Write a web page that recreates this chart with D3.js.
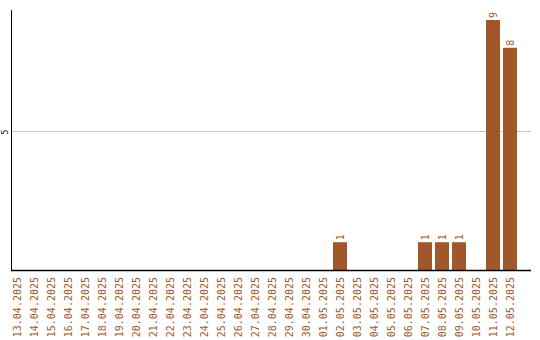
<!DOCTYPE html>
<html>
<head>
<meta charset="utf-8">
<script src="https://cdn.jsdelivr.net/npm/d3@7"></script>
<style>
  html, body { margin: 0; padding: 0; background: #fff; }
  svg { display: block; }
</style>
</head>
<body>
<svg id="chart" width="540" height="340"></svg>
<script>
// Daily counts, 13.04.2025 – 12.05.2025
const dates = [
  "13.04.2025", "14.04.2025", "15.04.2025", "16.04.2025", "17.04.2025",
  "18.04.2025", "19.04.2025", "20.04.2025", "21.04.2025", "22.04.2025",
  "23.04.2025", "24.04.2025", "25.04.2025", "26.04.2025", "27.04.2025",
  "28.04.2025", "29.04.2025", "30.04.2025", "01.05.2025", "02.05.2025",
  "03.05.2025", "04.05.2025", "05.05.2025", "06.05.2025", "07.05.2025",
  "08.05.2025", "09.05.2025", "10.05.2025", "11.05.2025", "12.05.2025"
];
const counts = [
  0, 0, 0, 0, 0, 0, 0, 0, 0, 0,
  0, 0, 0, 0, 0, 0, 0, 0, 0, 1,
  0, 0, 0, 0, 1, 1, 1, 0, 9, 8
];
const yTicks = [5];
const yMax = 9.36;

const barColor = "#a0572a";
const svg = d3.select("#chart");

const x = d3.scaleBand()
  .domain(dates)
  .range([10, 517])
  .paddingInner(3 / 17)
  .paddingOuter(0);

const y = d3.scaleLinear()
  .domain([0, yMax])
  .range([270, 10]);

// horizontal grid line(s)
svg.append("g")
  .selectAll("line")
  .data(yTicks)
  .join("line")
  .attr("x1", 11)
  .attr("x2", 531)
  .attr("y1", d => Math.round(y(d)) + 0.5)
  .attr("y2", d => Math.round(y(d)) + 0.5)
  .attr("stroke", "#c8c8c8")
  .attr("stroke-width", 1);

// y tick labels, rotated
svg.append("g")
  .selectAll("text")
  .data(yTicks)
  .join("text")
  .attr("transform", d => `translate(8, ${Math.round(y(d)) + 1}) rotate(-90)`)
  .attr("text-anchor", "middle")
  .attr("font-family", "DejaVu Sans Mono, monospace")
  .attr("font-size", 8)
  .attr("fill", "#000")
  .text(d => d);

// bars
svg.append("g")
  .selectAll("rect")
  .data(dates.map((d, i) => ({ date: d, value: counts[i] })).filter(d => d.value > 0))
  .join("rect")
  .attr("x", d => x(d.date))
  .attr("y", d => y(d.value))
  .attr("width", x.bandwidth())
  .attr("height", d => y(0) - y(d.value))
  .attr("fill", barColor);

// value labels above bars
svg.append("g")
  .selectAll("text")
  .data(dates.map((d, i) => ({ date: d, value: counts[i] })).filter(d => d.value > 0))
  .join("text")
  .attr("transform", d => `translate(${x(d.date) + x.bandwidth() / 2 + 3.5}, ${y(d.value) - 2}) rotate(-90)`)
  .attr("text-anchor", "start")
  .attr("font-family", "DejaVu Sans Mono, monospace")
  .attr("font-size", 10)
  .attr("fill", barColor)
  .text(d => d.value);

// axes lines
svg.append("line")
  .attr("x1", 11.5).attr("x2", 11.5)
  .attr("y1", 10).attr("y2", 271)
  .attr("stroke", "#000").attr("stroke-width", 1);
svg.append("line")
  .attr("x1", 11).attr("x2", 531)
  .attr("y1", 270.5).attr("y2", 270.5)
  .attr("stroke", "#000").attr("stroke-width", 1.5);

// x category labels, rotated
svg.append("g")
  .selectAll("text")
  .data(dates)
  .join("text")
  .attr("transform", d => `translate(${x(d) + x.bandwidth() / 2 + 3.5}, 277) rotate(-90)`)
  .attr("text-anchor", "end")
  .attr("font-family", "DejaVu Sans Mono, monospace")
  .attr("font-size", 10)
  .attr("fill", barColor)
  .text(d => d);
</script>
</body>
</html>
